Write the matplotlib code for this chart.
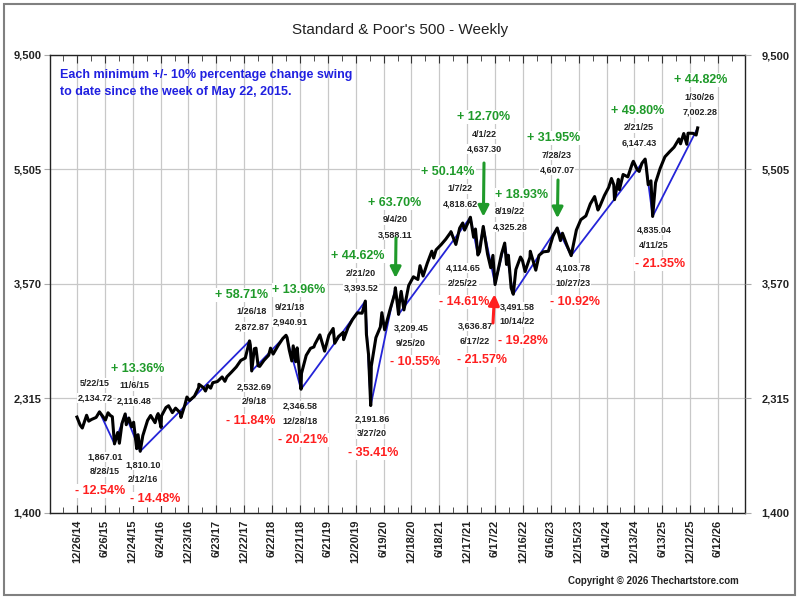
import matplotlib
matplotlib.use("Agg")
import matplotlib.pyplot as plt
from matplotlib.ticker import NullLocator
from matplotlib.patches import Rectangle
import numpy as np
import pandas as pd

plt.rcParams['font.family'] = ['Liberation Sans', 'DejaVu Sans']

# weekly S&P 500 (closes plus the swing extremes)
dates = [
    "2014-12-26", "2015-01-16", "2015-01-30", "2015-02-27", "2015-03-13", "2015-03-31",
    "2015-04-30", "2015-05-22", "2015-06-30", "2015-07-17", "2015-07-31", "2015-08-14",
    "2015-08-28", "2015-09-18", "2015-09-29", "2015-10-16", "2015-11-06", "2015-11-13",
    "2015-11-30", "2015-12-18", "2015-12-31", "2016-01-20", "2016-01-29", "2016-02-12",
    "2016-02-29", "2016-03-31", "2016-04-20", "2016-05-19", "2016-05-31", "2016-06-08",
    "2016-06-27", "2016-06-30", "2016-07-29", "2016-08-15", "2016-09-09", "2016-09-30",
    "2016-10-31", "2016-11-04", "2016-11-30", "2016-12-13", "2016-12-30",
    "2017-01-31", "2017-02-28", "2017-03-01", "2017-03-31", "2017-04-13", "2017-04-28",
    "2017-05-17", "2017-05-31", "2017-06-30", "2017-07-31", "2017-08-18", "2017-08-31",
    "2017-09-29", "2017-10-31", "2017-11-30", "2017-12-29",
    "2018-01-26", "2018-01-31", "2018-02-09", "2018-02-26", "2018-03-09", "2018-03-23",
    "2018-04-02", "2018-04-30", "2018-05-31", "2018-06-12", "2018-06-29", "2018-07-31",
    "2018-08-31", "2018-09-21", "2018-09-28", "2018-10-12", "2018-10-29", "2018-11-07",
    "2018-11-23", "2018-12-03", "2018-12-28", "2018-12-31",
    "2019-01-31", "2019-02-28", "2019-03-22", "2019-03-29", "2019-04-30", "2019-05-31",
    "2019-06-28", "2019-07-26", "2019-08-05", "2019-08-30", "2019-09-30", "2019-10-02",
    "2019-10-31", "2019-11-29", "2019-12-31",
    "2020-01-31", "2020-02-21", "2020-02-28", "2020-03-13", "2020-03-27", "2020-03-31",
    "2020-04-30", "2020-05-29", "2020-06-08", "2020-06-26", "2020-07-31", "2020-08-31",
    "2020-09-04", "2020-09-25", "2020-09-30", "2020-10-12", "2020-10-30", "2020-11-30",
    "2020-12-31",
    "2021-01-29", "2021-02-12", "2021-03-04", "2021-03-31", "2021-04-30", "2021-05-12",
    "2021-05-28", "2021-06-30", "2021-07-30", "2021-08-31", "2021-09-02", "2021-10-04",
    "2021-10-29", "2021-11-18", "2021-11-30", "2021-12-31",
    "2022-01-07", "2022-01-28", "2022-02-09", "2022-02-25", "2022-03-08", "2022-04-01",
    "2022-04-29", "2022-05-20", "2022-06-03", "2022-06-17", "2022-06-30", "2022-07-29",
    "2022-08-19", "2022-08-31", "2022-09-12", "2022-09-30", "2022-10-14", "2022-10-31",
    "2022-11-30", "2022-12-13", "2022-12-30",
    "2023-01-31", "2023-02-02", "2023-03-10", "2023-03-31", "2023-04-28", "2023-05-31",
    "2023-06-30", "2023-07-28", "2023-08-18", "2023-08-31", "2023-09-29", "2023-10-27",
    "2023-11-30", "2023-12-29",
    "2024-01-31", "2024-02-29", "2024-03-28", "2024-04-19", "2024-04-30", "2024-05-31",
    "2024-06-28", "2024-07-16", "2024-07-31", "2024-08-05", "2024-08-30", "2024-09-06",
    "2024-09-30", "2024-10-31", "2024-11-29", "2024-12-06", "2024-12-31",
    "2025-01-13", "2025-01-31", "2025-02-21", "2025-02-28", "2025-03-13", "2025-03-31",
    "2025-04-11", "2025-04-30", "2025-05-30", "2025-06-30", "2025-07-31", "2025-08-29",
    "2025-09-30", "2025-10-10", "2025-10-31", "2025-11-20", "2025-11-28", "2025-12-31",
    "2026-01-20", "2026-01-30",
]
prices = [
    2088.77, 2019.42, 1994.99, 2104.50, 2053.40, 2067.89,
    2085.51, 2134.72, 2063.11, 2126.64, 2103.84, 2091.54,
    1867.01, 1958.03, 1871.91, 2033.11, 2116.48, 2023.04,
    2080.41, 2005.55, 2043.94, 1830.00, 1940.24, 1810.10,
    1932.23, 2059.74, 2102.40, 2040.04, 2096.95, 2119.12,
    2000.54, 2098.86, 2173.60, 2190.15, 2127.81, 2168.27,
    2126.15, 2085.18, 2198.81, 2271.72, 2238.83,
    2278.87, 2363.64, 2395.96, 2362.72, 2328.95, 2384.20,
    2357.03, 2411.80, 2423.41, 2470.30, 2425.55, 2471.65,
    2519.36, 2575.26, 2647.58, 2673.61,
    2872.87, 2823.81, 2532.69, 2779.60, 2786.57, 2588.26,
    2581.88, 2648.05, 2705.27, 2786.85, 2718.37, 2816.29,
    2901.52, 2940.91, 2913.98, 2767.13, 2641.25, 2813.89,
    2632.56, 2790.37, 2346.58, 2506.85,
    2704.10, 2784.49, 2800.71, 2834.40, 2945.83, 2752.06,
    2941.76, 3025.86, 2844.74, 2926.46, 2976.74, 2887.61,
    3037.56, 3140.98, 3230.78,
    3225.52, 3393.52, 2954.22, 2711.02, 2191.86, 2584.59,
    2912.43, 3044.31, 3232.39, 3009.05, 3271.12, 3500.31,
    3588.11, 3209.45, 3363.00, 3534.22, 3269.96, 3621.63,
    3756.07,
    3714.24, 3934.83, 3768.47, 3972.89, 4181.17, 4063.04,
    4204.11, 4297.50, 4395.26, 4522.68, 4536.95, 4300.46,
    4605.38, 4704.54, 4567.00, 4766.18,
    4818.62, 4431.85, 4587.18, 4114.65, 4170.70, 4637.30,
    4131.93, 3900.79, 4108.54, 3636.87, 3785.38, 4130.29,
    4325.28, 3955.00, 4110.41, 3585.62, 3491.58, 3871.98,
    4080.11, 4019.65, 3839.50,
    4076.60, 4179.76, 3861.59, 4109.31, 4169.48, 4179.83,
    4450.38, 4607.07, 4369.71, 4507.66, 4288.05, 4103.78,
    4567.80, 4769.83,
    4845.65, 5096.27, 5254.35, 4967.23, 5035.69, 5277.51,
    5460.48, 5667.20, 5522.30, 5186.33, 5648.40, 5408.42,
    5762.48, 5705.45, 6032.38, 6090.27, 5881.63,
    5836.22, 6040.53, 6147.43, 5954.50, 5521.52, 5611.85,
    4835.04, 5569.06, 5911.69, 6204.95, 6339.39, 6460.26,
    6688.46, 6552.51, 6840.20, 6538.76, 6849.09, 6845.50,
    6796.86, 7002.28,
]

# swing pivots (minimum +/- 10% moves)
piv_dates = ["2015-05-22", "2015-08-28", "2015-11-06", "2016-02-12", "2018-01-26",
             "2018-02-09", "2018-09-21", "2018-12-28", "2020-02-21", "2020-03-27",
             "2020-09-04", "2020-09-25", "2022-01-07", "2022-02-25", "2022-04-01",
             "2022-06-17", "2022-08-19", "2022-10-14", "2023-07-28", "2023-10-27",
             "2025-02-21", "2025-04-11", "2026-01-30"]
piv_values = [2134.72, 1867.01, 2116.48, 1810.10, 2872.87,
              2532.69, 2940.91, 2346.58, 3393.52, 2191.86,
              3588.11, 3209.45, 4818.62, 4114.65, 4637.30,
              3636.87, 4325.28, 3491.58, 4607.07, 4103.78,
              6147.43, 4835.04, 7002.28]
piv_labels = ["5/22/15", "8/28/15", "11/6/15", "2/12/16", "1/26/18",
              "2/9/18", "9/21/18", "12/28/18", "2/21/20", "3/27/20",
              "9/4/20", "9/25/20", "1/7/22", "2/25/22", "4/1/22",
              "6/17/22", "8/19/22", "10/14/22", "7/28/23", "10/27/23",
              "2/21/25", "4/11/25", "1/30/26"]
piv_pct = ["", "- 12.54%", "+ 13.36%", "- 14.48%", "+ 58.71%",
           "- 11.84%", "+ 13.96%", "- 20.21%", "+ 44.62%", "- 35.41%",
           "+ 63.70%", "- 10.55%", "+ 50.14%", "- 14.61%", "+ 12.70%",
           "- 21.57%", "+ 18.93%", "- 19.28%", "+ 31.95%", "- 10.92%",
           "+ 49.80%", "- 21.35%", "+ 44.82%"]

tick_dates = ["2014-12-26", "2015-06-26", "2015-12-24", "2016-06-24", "2016-12-23",
              "2017-06-23", "2017-12-22", "2018-06-22", "2018-12-21", "2019-06-21",
              "2019-12-20", "2020-06-19", "2020-12-18", "2021-06-18", "2021-12-17",
              "2022-06-17", "2022-12-16", "2023-06-16", "2023-12-15", "2024-06-14",
              "2024-12-13", "2025-06-13", "2025-12-12", "2026-06-12"]
tick_labels = ["12/26/14", "6/26/15", "12/24/15", "6/24/16", "12/23/16", "6/23/17",
               "12/22/17", "6/22/18", "12/21/18", "6/21/19", "12/20/19", "6/19/20",
               "12/18/20", "6/18/21", "12/17/21", "6/17/22", "12/16/22", "6/16/23",
               "12/15/23", "6/14/24", "12/13/24", "6/13/25", "12/12/25", "6/12/26"]
y_labels = ["1,400", "2,315", "3,570", "5,505", "9,500"]

W, H = 800, 600
GREEN = "#1f9a2a"
RED = "#ff1f1f"


def fx(px):
    return px / W


def fy(py):
    return 1 - py / H


fig = plt.figure(figsize=(8, 6), dpi=100)
ax = fig.add_axes([fx(50), fy(512.7), fx(745) - fx(50), fy(55) - fy(512.7)])

x = pd.to_datetime(dates)
px_dates = pd.to_datetime(piv_dates)
ax.plot(px_dates, piv_values, color="#2424d8", lw=1.3, zorder=2)
ax.plot(x, prices, color="black", lw=2.2, zorder=3)

ax.set_yscale("log")
ax.set_ylim(1400, 9500)
yt = np.geomspace(1400, 9500, 5)
ax.set_yticks(yt)
ax.set_yticklabels(y_labels)
ax.yaxis.set_minor_locator(NullLocator())

ticks = pd.to_datetime(tick_dates)
ax.set_xlim(pd.Timestamp("2014-07-03"), pd.Timestamp("2026-12-05"))
ax.set_xticks(ticks)
ax.set_xticklabels(tick_labels, rotation=90)
minors = list(ticks - pd.Timedelta(days=91)) + [ticks[-1] + pd.Timedelta(days=91)]
ax.set_xticks(minors, minor=True)

ax.grid(True, which="major", color="#c8c8c8", lw=0.9)
ax.set_axisbelow(True)
ax.tick_params(axis="x", which="both", direction="in", top=True, bottom=True,
               color="#333333", labelsize=8, pad=5)
ax.tick_params(axis="x", which="major", length=6)
ax.tick_params(axis="x", which="minor", length=4)
ax.tick_params(axis="y", direction="out", length=4, color="#aaaaaa",
               labelsize=8, pad=2)
for lab in ax.get_xticklabels() + ax.get_yticklabels():
    lab.set_fontweight("bold")
    lab.set_color("#222222")
for s in ax.spines.values():
    s.set_color("#222222")
    s.set_linewidth(1.0)

ax2 = ax.twinx()
ax2.set_yscale("log")
ax2.set_ylim(1400, 9500)
ax2.set_yticks(yt)
ax2.set_yticklabels(y_labels)
ax2.yaxis.set_minor_locator(NullLocator())
ax2.tick_params(axis="y", direction="out", length=4, color="#aaaaaa",
                labelsize=8, pad=8)
for lab in ax2.get_yticklabels():
    lab.set_fontweight("bold")
    lab.set_color("#222222")
for s in ax2.spines.values():
    s.set_visible(False)

# label blocks: (x centre, top line y, pct x) in pixels
label_pos = [
    (95, 366, 95), (105, 457, 100), (134, 369, 138), (143, 465, 155),
    (252, 295, 242), (254, 387, 251), (290, 290, 299), (300, 406, 303),
    (361, 256, 358), (372, 419, 373), (395, 203, 395), (411, 328, 415),
    (460, 172, 448), (463, 268, 464), (484, 117, 484), (475, 326, 482),
    (510, 195, 522), (517, 307, 523), (557, 138, 554), (573, 268, 575),
    (639, 111, 638), (654, 230, 660), (700, 80, 701),
]
box = dict(facecolor="white", edgecolor="none", pad=0.6)


def put(px, py, s, color, size):
    ax.text(fx(px), fy(py), s, transform=fig.transFigure, ha="center", va="center",
            color=color, fontsize=size, fontweight="bold", bbox=box, zorder=1.5)


for i, (lx, ly, pxx) in enumerate(label_pos):
    val = f"{piv_values[i]:,.2f}"
    pct = piv_pct[i]
    if i % 2 == 0:
        if pct:
            put(pxx, ly, pct, GREEN, 9)
        put(lx, ly + 17, piv_labels[i], "#222222", 6.5)
        put(lx, ly + 32, val, "#222222", 6.5)
    else:
        put(lx, ly, val, "#222222", 6.5)
        put(lx, ly + 15, piv_labels[i], "#222222", 6.5)
        put(pxx, ly + 34, pct, RED, 9)

# arrows: pivot index, tail pixel
arrows = [(10, 396, 238, GREEN), (14, 484, 163, GREEN), (18, 558, 180, GREEN),
          (15, 493, 323, RED)]
for i, tx, ty, c in arrows:
    ax.annotate("", xy=(px_dates[i], piv_values[i]), xytext=(fx(tx), fy(ty)),
                textcoords="figure fraction",
                arrowprops=dict(arrowstyle="-|>", color=c, lw=2.2,
                                mutation_scale=16, shrinkA=0, shrinkB=7),
                zorder=4)

fig.text(fx(400), fy(30), "Standard & Poor's 500 - Weekly", ha="center",
         va="center", fontsize=11, color="#222222")
fig.text(fx(60), fy(75), "Each minimum +/- 10% percentage change swing",
         ha="left", va="center", fontsize=9, fontweight="bold", color="#2020e0")
fig.text(fx(60), fy(92), "to date since the week of May 22, 2015.",
         ha="left", va="center", fontsize=9, fontweight="bold", color="#2020e0")
fig.text(fx(739), fy(581), "Copyright \u00a9 2026 Thechartstore.com", ha="right",
         va="center", fontsize=7, fontweight="bold", color="#222222")

fig.patches.append(Rectangle((fx(4), fy(595)), fx(791), fy(4) - fy(595),
                             transform=fig.transFigure, fill=False,
                             edgecolor="#808080", lw=1.5))

fig.savefig("out.png", dpi=100)
